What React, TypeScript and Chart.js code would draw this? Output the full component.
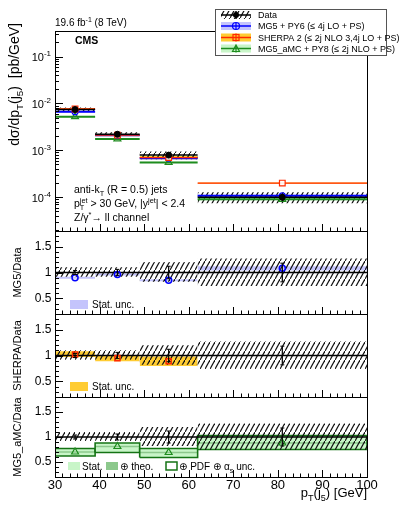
import React, { useEffect, useRef } from 'react';
import { Chart, registerables } from 'chart.js';

Chart.register(...registerables);

// ---------------- data ----------------
const binEdges = [30, 39, 49, 62, 100];
const binCenters = [34.5, 44, 55.5, 81];
const xTickLabels = [30, 40, 50, 60, 70, 80, 90, 100];
const xMinorPerMajor = 6;
const mainMajorTicks = [1e-4, 1e-3, 1e-2, 1e-1];
const ratioTickLabels = [0.5, 1, 1.5];

const dataXsec = [7.4e-3, 2.2e-3, 7.9e-4, 1.0e-4];
const dataStatRel = [0.04, 0.06, 0.12, 0.18];
const dataSystUpRel = [0.1, 0.1, 0.2, 0.27];
const dataSystDownRel = [0.08, 0.08, 0.18, 0.26];

const mg5Xsec = [6.6e-3, 2.1e-3, 6.8e-4, 1.07e-4];
const sherpaXsec = [7.6e-3, 2.1e-3, 7.0e-4, 2.0e-4];
const amcXsec = [5.2e-3, 1.75e-3, 5.5e-4, 9.0e-5];
const mg5MainRel = [0.03, 0.03, 0.03, 0.05];
const sherpaMainRel = [0.05, 0.05, 0.08, 0.03];
const amcMainRel = [0.03, 0.03, 0.03, 0.05];

const mg5Ratio = [0.9, 0.96, 0.85, 1.08];
const mg5StatLo = [0.88, 0.94, 0.83, 1.04];
const mg5StatHi = [0.92, 0.98, 0.87, 1.12];

const sherpaRatio = [1.02, 0.95, 0.89, null];
const sherpaStatLo = [0.97, 0.89, 0.8, null];
const sherpaStatHi = [1.08, 1.0, 0.98, null];

const amcRatio = [0.7, 0.81, 0.69, 0.88];
const amcUncLo = [0.62, 0.69, 0.59, 0.75];
const amcUncHi = [0.77, 0.88, 0.77, 1.03];

// ---------------- style ----------------
const FONT = "'Liberation Sans', Arial, Helvetica, 'DejaVu Sans', sans-serif";
const BLUE = '#0000ff';
const BLUE_BAND = 'rgb(196,196,252)';
const RED = '#ff2a00';
const ORANGE_BAND = 'rgb(255,204,51)';
const GREEN = 'rgb(30,140,30)';
const GREEN_LIGHT = 'rgb(200,245,200)';
const GREEN_MID = 'rgb(140,200,140)';
const GREEN_DARK = 'rgb(20,115,20)';
const CLEAR = 'rgba(0,0,0,0)';

type Seg = { t?: string; sub?: string; sup?: string };

function segW(ctx: CanvasRenderingContext2D, s: Seg, size: number, weight: string) {
  if (s.t !== undefined) {
    ctx.font = `${weight} ${size}px ${FONT}`;
    return ctx.measureText(s.t).width;
  }
  ctx.font = `${weight} ${size * 0.7}px ${FONT}`;
  return Math.max(s.sub ? ctx.measureText(s.sub).width : 0, s.sup ? ctx.measureText(s.sup).width : 0);
}

function drawRich(ctx: CanvasRenderingContext2D, segs: Seg[], x: number, y: number, size: number, align: string, weight = 'normal') {
  const total = segs.reduce((a, s) => a + segW(ctx, s, size, weight), 0);
  let cx = align === 'left' ? x : align === 'right' ? x - total : x - total / 2;
  ctx.textAlign = 'left';
  ctx.textBaseline = 'alphabetic';
  for (const s of segs) {
    const w = segW(ctx, s, size, weight);
    if (s.t !== undefined) {
      ctx.font = `${weight} ${size}px ${FONT}`;
      ctx.fillText(s.t, cx, y);
    } else {
      ctx.font = `${weight} ${size * 0.7}px ${FONT}`;
      if (s.sub) ctx.fillText(s.sub, cx, y + size * 0.3);
      if (s.sup) ctx.fillText(s.sup, cx, y - size * 0.42);
    }
    cx += w;
  }
}

function buildDatasets(hatch: any) {
  const L: any[] = [];
  const band = (axis: string, i: number, lo: number | null, hi: number | null, color: any) => {
    if (lo === null || hi === null) return;
    L.push({
      yAxisID: axis,
      data: [{ x: binEdges[i], y: hi }, { x: binEdges[i + 1], y: hi }],
      fill: { value: lo },
      backgroundColor: color,
      borderColor: CLEAR,
      borderWidth: 0,
      pointRadius: 0,
    });
  };
  const path = (axis: string, pts: { x: number; y: number }[], color: string, width: number, cap = 0) =>
    L.push({
      yAxisID: axis,
      data: pts,
      fill: false,
      borderColor: color,
      borderWidth: width,
      pointRadius: cap,
      pointStyle: 'line',
      pointBorderColor: color,
      pointBackgroundColor: color,
      pointBorderWidth: 1,
    });
  const hseg = (axis: string, i: number, y: number | null, color: string, width: number) => {
    if (y === null) return;
    path(axis, [{ x: binEdges[i], y }, { x: binEdges[i + 1], y }], color, width);
  };
  const marks = (axis: string, values: (number | null)[], style: string, color: string, bg: string, radius: number, bw: number) =>
    L.push({
      yAxisID: axis,
      data: binCenters.map((x, i) => ({ x, y: values[i] })),
      showLine: false,
      fill: false,
      borderColor: color,
      pointStyle: style,
      pointRadius: radius,
      pointBorderColor: color,
      pointBackgroundColor: bg,
      pointBorderWidth: bw,
    });

  // ---- main panel ----
  binCenters.forEach((_, i) => {
    band('yMain', i, amcXsec[i] * (1 - amcMainRel[i]), amcXsec[i] * (1 + amcMainRel[i]), GREEN_LIGHT);
    band('yMain', i, mg5Xsec[i] * (1 - mg5MainRel[i]), mg5Xsec[i] * (1 + mg5MainRel[i]), BLUE_BAND);
    band('yMain', i, sherpaXsec[i] * (1 - sherpaMainRel[i]), sherpaXsec[i] * (1 + sherpaMainRel[i]), ORANGE_BAND);
  });
  binCenters.forEach((_, i) =>
    band('yMain', i, dataXsec[i] * (1 - dataSystDownRel[i]), dataXsec[i] * (1 + dataSystUpRel[i]), hatch)
  );
  binCenters.forEach((_, i) => {
    hseg('yMain', i, amcXsec[i], GREEN, 2);
    hseg('yMain', i, mg5Xsec[i], BLUE, 2);
    hseg('yMain', i, sherpaXsec[i], RED, 1.3);
    hseg('yMain', i, dataXsec[i], '#000', 1.5);
  });
  marks('yMain', amcXsec, 'triangle', GREEN, CLEAR, 4, 1.2);
  marks('yMain', mg5Xsec, 'circle', BLUE, CLEAR, 3, 1.2);
  marks('yMain', sherpaXsec, 'rect', RED, 'rgba(255,255,255,0.9)', 4, 1.2);
  binCenters.forEach((x, i) =>
    path('yMain', [{ x, y: dataXsec[i] * (1 - dataStatRel[i]) }, { x, y: dataXsec[i] * (1 + dataStatRel[i]) }], '#000', 1.5)
  );
  marks('yMain', dataXsec, 'circle', '#000', '#000', 3, 1);

  // ---- ratio panels ----
  const ratioPanel = (axis: string, modelBands: () => void, modelMarks: () => void) => {
    modelBands();
    binCenters.forEach((_, i) => band(axis, i, 1 - dataSystDownRel[i], 1 + dataSystUpRel[i], hatch));
    path(axis, [{ x: binEdges[0], y: 1 }, { x: binEdges[binEdges.length - 1], y: 1 }], '#000', 1.5);
    modelMarks();
    binCenters.forEach((x, i) =>
      path(axis, [{ x, y: 1 - dataStatRel[i] }, { x, y: 1 + dataStatRel[i] }], '#000', 1.2, 2)
    );
  };

  ratioPanel(
    'yMg5',
    () => binCenters.forEach((_, i) => band('yMg5', i, mg5StatLo[i], mg5StatHi[i], BLUE_BAND)),
    () => marks('yMg5', mg5Ratio, 'circle', BLUE, CLEAR, 3, 1.5)
  );
  ratioPanel(
    'ySherpa',
    () => binCenters.forEach((_, i) => band('ySherpa', i, sherpaStatLo[i], sherpaStatHi[i], ORANGE_BAND)),
    () => marks('ySherpa', sherpaRatio, 'rect', RED, CLEAR, 3.6, 1.5)
  );
  ratioPanel(
    'yAmc',
    () =>
      binCenters.forEach((_, i) => {
        band('yAmc', i, amcUncLo[i], amcUncHi[i], GREEN_LIGHT);
        hseg('yAmc', i, amcRatio[i], GREEN_MID, 1.5);
        const x0 = binEdges[i];
        const x1 = binEdges[i + 1];
        path(
          'yAmc',
          [
            { x: x0, y: amcUncLo[i] },
            { x: x1, y: amcUncLo[i] },
            { x: x1, y: amcUncHi[i] },
            { x: x0, y: amcUncHi[i] },
            { x: x0, y: amcUncLo[i] },
          ],
          GREEN_DARK,
          1.6
        );
      }),
    () => marks('yAmc', amcRatio, 'triangle', GREEN, CLEAR, 4, 1.2)
  );

  L.forEach((d, i) => {
    d.order = L.length - i;
    d.tension = 0;
    d.spanGaps = false;
  });
  return L;
}

const panelIds = ['yMain', 'yMg5', 'ySherpa', 'yAmc'];

const decorPlugin = {
  id: 'decor',
  afterDatasetsDraw(chart: any) {
    const ctx: CanvasRenderingContext2D = chart.ctx;
    const ca = chart.chartArea;
    const xs = chart.scales.x;
    ctx.save();
    ctx.strokeStyle = '#000';
    ctx.lineWidth = 1;
    ctx.beginPath();
    for (const id of panelIds) {
      const s = chart.scales[id];
      for (const t of xs.ticks) {
        const px = Math.round(xs.getPixelForValue(t.value)) + 0.5;
        const major = xTickLabels.some((v) => Math.abs(v - t.value) < 1e-6);
        ctx.moveTo(px, s.bottom);
        ctx.lineTo(px, s.bottom - (major ? 7 : 3.5));
      }
      for (const t of s.ticks) {
        const py = Math.round(s.getPixelForValue(t.value)) + 0.5;
        let major: boolean;
        if (id === 'yMain') major = mainMajorTicks.some((v) => Math.abs(Math.log10(v) - Math.log10(t.value)) < 1e-6);
        else major = ratioTickLabels.some((v) => Math.abs(v - t.value) < 1e-6);
        ctx.moveTo(ca.left, py);
        ctx.lineTo(ca.left + (major ? 8 : 4), py);
      }
    }
    ctx.stroke();
    for (const id of panelIds) {
      const s = chart.scales[id];
      ctx.strokeRect(Math.round(ca.left) + 0.5, Math.round(s.top) + 0.5, Math.round(ca.right - ca.left), Math.round(s.bottom - s.top));
    }
    ctx.restore();
  },
  afterDraw(chart: any) {
    const ctx: CanvasRenderingContext2D = chart.ctx;
    const ca = chart.chartArea;
    const hatch = chart.$hatch;
    ctx.save();
    ctx.fillStyle = '#000';

    const ym = chart.scales.yMain;
    for (const v of mainMajorTicks) {
      const py = ym.getPixelForValue(v);
      const k = Math.round(Math.log10(v));
      ctx.font = `8px ${FONT}`;
      const supTxt = `${k}`;
      const sw = ctx.measureText(supTxt).width;
      ctx.textAlign = 'left';
      ctx.textBaseline = 'alphabetic';
      ctx.fillText(supTxt, 51 - sw, py - 0.5);
      ctx.font = `11px ${FONT}`;
      const tw = ctx.measureText('10').width;
      ctx.fillText('10', 51 - sw - tw, py + 4.5);
    }

    ctx.save();
    ctx.translate(19, 23);
    ctx.rotate(-Math.PI / 2);
    drawRich(ctx, [{ t: 'dσ/dp' }, { sub: 'T' }, { t: '(j' }, { sub: '5' }, { t: ')  [pb/GeV]' }], 0, 0, 14, 'right');
    ctx.restore();
    const ratioTitles: [string, string][] = [
      ['yMg5', 'MG5/Data'],
      ['ySherpa', 'SHERPA/Data'],
      ['yAmc', 'MG5_aMC/Data'],
    ];
    for (const [id, label] of ratioTitles) {
      const s = chart.scales[id];
      ctx.save();
      ctx.translate(20.5, (s.top + s.bottom) / 2);
      ctx.rotate(-Math.PI / 2);
      drawRich(ctx, [{ t: label }], 0, 0, 11, 'center');
      ctx.restore();
    }

    drawRich(ctx, [{ t: 'p' }, { sub: 'T' }, { t: '(j' }, { sub: '5' }, { t: ') [GeV]' }], ca.right, 497, 13, 'right');

    drawRich(ctx, [{ t: '19.6 fb' }, { sup: '-1' }, { t: ' (8 TeV)' }], 55, 26, 10, 'left');
    drawRich(ctx, [{ t: 'CMS' }], 75, 44, 10.5, 'left', 'bold');
    drawRich(ctx, [{ t: 'anti-k' }, { sub: 'T' }, { t: ' (R = 0.5) jets' }], 74, 193, 10.5, 'left');
    drawRich(ctx, [{ t: 'p' }, { sub: 'T', sup: 'jet' }, { t: ' > 30 GeV, |y' }, { sup: 'jet' }, { t: '| < 2.4' }], 74, 207, 10.5, 'left');
    drawRich(ctx, [{ t: 'Z/γ' }, { sup: '*' }, { t: '→ ll channel' }], 74, 221, 10.5, 'left');

    const ymg = chart.scales.yMg5;
    const ysh = chart.scales.ySherpa;
    const yam = chart.scales.yAmc;
    ctx.fillStyle = BLUE_BAND;
    ctx.fillRect(70, ymg.bottom - 14, 18, 9);
    ctx.fillStyle = '#000';
    drawRich(ctx, [{ t: 'Stat. unc.' }], 92, ymg.bottom - 6, 10, 'left');
    ctx.fillStyle = ORANGE_BAND;
    ctx.fillRect(70, ysh.bottom - 15, 18, 9);
    ctx.fillStyle = '#000';
    drawRich(ctx, [{ t: 'Stat. unc.' }], 92, ysh.bottom - 7, 10, 'left');
    const ly = yam.bottom - 15;
    ctx.fillStyle = GREEN_LIGHT;
    ctx.fillRect(68, ly, 12, 8);
    ctx.fillStyle = GREEN_MID;
    ctx.fillRect(106, ly, 12, 8);
    ctx.fillStyle = '#fff';
    ctx.fillRect(166, ly, 11, 8);
    ctx.strokeStyle = GREEN_DARK;
    ctx.lineWidth = 1.5;
    ctx.strokeRect(166, ly, 11, 8);
    ctx.fillStyle = '#000';
    drawRich(ctx, [{ t: 'Stat.' }], 82, ly + 7.5, 10, 'left');
    drawRich(ctx, [{ t: '⊕ theo.' }], 120, ly + 7.5, 10, 'left');
    drawRich(ctx, [{ t: '⊕ PDF ⊕ α' }, { sub: 's' }, { t: ' unc.' }], 179, ly + 7.5, 10, 'left');

    const lx = 215.5;
    const lyTop = 9.5;
    ctx.fillStyle = '#fff';
    ctx.fillRect(lx, lyTop, 171, 46);
    ctx.strokeStyle = '#555';
    ctx.lineWidth = 1;
    ctx.strokeRect(lx, lyTop, 171, 46);
    const rows = [15, 26, 37.5, 48.5];
    const sx0 = 221;
    const sx1 = 251;
    const cx = 236;
    const hl = (y: number, color: string, w: number) => {
      ctx.strokeStyle = color;
      ctx.lineWidth = w;
      ctx.beginPath();
      ctx.moveTo(sx0, y);
      ctx.lineTo(sx1, y);
      ctx.stroke();
    };
    ctx.fillStyle = hatch;
    ctx.fillRect(sx0, rows[0] - 4, sx1 - sx0, 8);
    hl(rows[0], '#000', 1.5);
    ctx.beginPath();
    ctx.moveTo(cx, rows[0] - 4);
    ctx.lineTo(cx, rows[0] + 4);
    ctx.stroke();
    ctx.fillStyle = '#000';
    ctx.beginPath();
    ctx.arc(cx, rows[0], 3, 0, Math.PI * 2);
    ctx.fill();
    ctx.fillStyle = BLUE_BAND;
    ctx.fillRect(sx0, rows[1] - 4, sx1 - sx0, 8);
    hl(rows[1], BLUE, 1.5);
    ctx.strokeStyle = BLUE;
    ctx.lineWidth = 1.2;
    ctx.beginPath();
    ctx.arc(cx, rows[1], 3.5, 0, Math.PI * 2);
    ctx.moveTo(cx, rows[1] - 4);
    ctx.lineTo(cx, rows[1] + 4);
    ctx.stroke();
    ctx.fillStyle = ORANGE_BAND;
    ctx.fillRect(sx0, rows[2] - 4, sx1 - sx0, 8);
    hl(rows[2], RED, 1.5);
    ctx.strokeStyle = RED;
    ctx.lineWidth = 1.2;
    ctx.strokeRect(cx - 3, rows[2] - 3, 6, 6);
    ctx.beginPath();
    ctx.moveTo(cx, rows[2] - 4);
    ctx.lineTo(cx, rows[2] + 4);
    ctx.stroke();
    ctx.fillStyle = GREEN_LIGHT;
    ctx.fillRect(sx0, rows[3] - 4, sx1 - sx0, 8);
    hl(rows[3], GREEN, 1.5);
    ctx.strokeStyle = GREEN;
    ctx.lineWidth = 1.2;
    ctx.beginPath();
    ctx.moveTo(cx - 3.5, rows[3] + 3);
    ctx.lineTo(cx + 3.5, rows[3] + 3);
    ctx.lineTo(cx, rows[3] - 3.5);
    ctx.closePath();
    ctx.moveTo(cx, rows[3] - 4);
    ctx.lineTo(cx, rows[3] + 4);
    ctx.stroke();

    ctx.fillStyle = '#000';
    const labels = ['Data', 'MG5 + PY6 (≤ 4j LO + PS)', 'SHERPA 2 (≤ 2j NLO 3,4j LO + PS)', 'MG5_aMC + PY8 (≤ 2j NLO + PS)'];
    labels.forEach((t, i) => drawRich(ctx, [{ t }], 258, rows[i] + 3.2, 9, 'left'));
    ctx.restore();
  },
};

function makeHatch(ctx: CanvasRenderingContext2D) {
  const c = document.createElement('canvas');
  c.width = 5;
  c.height = 9;
  const g = c.getContext('2d')!;
  g.strokeStyle = '#111';
  g.lineWidth = 1.2;
  g.beginPath();
  g.moveTo(0, 9);
  g.lineTo(5, 0);
  g.stroke();
  return ctx.createPattern(c, 'repeat');
}

export default function App() {
  const ref = useRef<HTMLCanvasElement>(null);
  useEffect(() => {
    const canvas = ref.current!;
    const ctx = canvas.getContext('2d')!;
    const hatch = makeHatch(ctx);
    const yBase = (weight: number, stackWeight: number) => ({
      stack: 'panels',
      stackWeight,
      weight,
      position: 'left',
      grid: { display: false, drawTicks: false },
      border: { display: false },
      afterFit: (s: any) => {
        s.width = 55;
      },
    });
    const ratioScale = (weight: number, stackWeight: number) => ({
      ...yBase(weight, stackWeight),
      type: 'linear',
      min: 0.2,
      max: 1.8,
      afterBuildTicks: (s: any) => {
        const t = [];
        for (let k = 2; k <= 18; k++) t.push({ value: k / 10 });
        s.ticks = t;
      },
      ticks: {
        autoSkip: false,
        padding: 3.5,
        color: '#000',
        font: { family: FONT, size: 12 },
        callback: (v: number) => (ratioTickLabels.some((r) => Math.abs(r - v) < 1e-6) ? String(Math.round(v * 10) / 10) : ''),
      },
    });
    const chart: any = new Chart(canvas, {
      type: 'line',
      data: { datasets: buildDatasets(hatch) },
      options: {
        animation: false,
        responsive: false,
        maintainAspectRatio: false,
        events: [],
        layout: { padding: { top: 31, right: 32, left: 0, bottom: 0 } },
        plugins: { legend: { display: false }, tooltip: { enabled: false } },
        scales: {
          x: {
            type: 'linear',
            min: binEdges[0],
            max: binEdges[binEdges.length - 1],
            position: 'bottom',
            grid: { display: false, drawTicks: false },
            border: { display: false },
            afterBuildTicks: (s: any) => {
              const t = [];
              const step = (xTickLabels[1] - xTickLabels[0]) / xMinorPerMajor;
              const n = Math.round((xTickLabels[xTickLabels.length - 1] - xTickLabels[0]) / step);
              for (let k = 0; k <= n; k++) t.push({ value: xTickLabels[0] + k * step });
              s.ticks = t;
            },
            afterFit: (s: any) => {
              s.height = 39;
            },
            ticks: {
              autoSkip: false,
              maxRotation: 0,
              padding: 1,
              color: '#000',
              font: { family: FONT, size: 13 },
              callback: (v: number) => (xTickLabels.some((t) => Math.abs(t - v) < 1e-6) ? String(Math.round(v)) : ''),
            },
          },
          yMain: {
            ...yBase(4, 200),
            type: 'logarithmic',
            min: 1.9e-5,
            max: 0.35,
            afterBuildTicks: (s: any) => {
              const t = [];
              for (let e = -5; e <= -1; e++) {
                for (let m = 1; m <= 9; m++) {
                  const v = m * Math.pow(10, e);
                  if (v >= s.min && v <= s.max) t.push({ value: v });
                }
              }
              s.ticks = t;
            },
            ticks: { display: false, autoSkip: false },
          },
          yMg5: ratioScale(3, 83),
          ySherpa: ratioScale(2, 83),
          yAmc: ratioScale(1, 80),
        },
      } as any,
      plugins: [decorPlugin as any],
    });
    chart.$hatch = hatch;
    chart.draw();
    return () => chart.destroy();
  }, []);
  return (
    <div style={{ position: 'absolute', left: 0, top: 0, width: 399, height: 516, background: '#fff' }}>
      <canvas ref={ref} width={399} height={516} style={{ display: 'block', width: 399, height: 516 }} />
    </div>
  );
}
